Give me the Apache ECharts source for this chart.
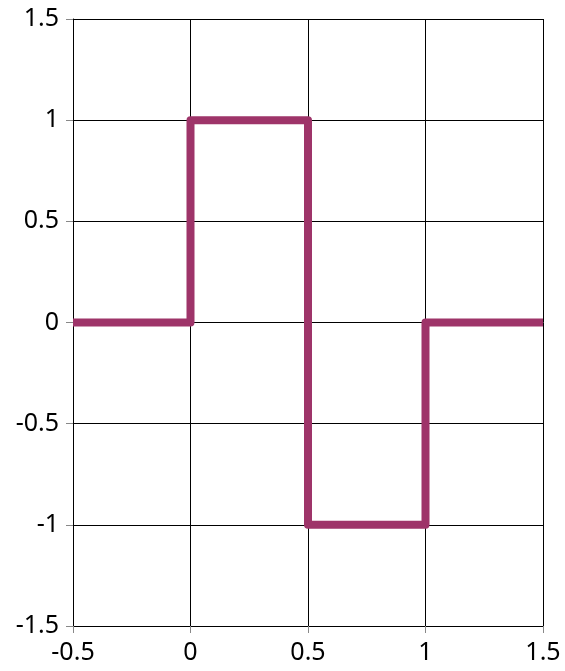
<!DOCTYPE html>
<html>
<head>
<meta charset="utf-8">
<script src="https://cdn.jsdelivr.net/npm/echarts@6/dist/echarts.min.js"></script>
<style>
  html, body { margin: 0; padding: 0; background: #fff; }
  #chart { width: 565px; height: 671px; }
</style>
</head>
<body>
<div id="chart"></div>
<script>
// Haar wavelet step function
const xValues = [-0.5, 0, 0, 0.5, 0.5, 1, 1, 1.5];
const yValues = [0, 0, 1, 1, -1, -1, 0, 0];
const xTicks = [-0.5, 0, 0.5, 1, 1.5];
const yTicks = [-1.5, -1, -0.5, 0, 0.5, 1, 1.5];

const points = xValues.map((x, i) => [x, yValues[i]]);
const fmt = v => String(v);

const chart = echarts.init(document.getElementById('chart'), null, { renderer: 'canvas' });
chart.setOption({
  animation: false,
  grid: { left: 73, right: 22, top: 19, bottom: 45, containLabel: false },
  xAxis: {
    type: 'value',
    min: xTicks[0], max: xTicks[xTicks.length - 1], interval: 0.5,
    axisLine: { show: true, onZero: false, lineStyle: { color: '#000', width: 1 } },
    axisTick: { show: true, length: 7, lineStyle: { color: '#888' } },
    axisLabel: { formatter: fmt, color: '#000', fontFamily: 'Noto Sans', fontSize: 25, margin: 14 },
    splitLine: { show: true, lineStyle: { color: '#000', width: 1 } }
  },
  yAxis: {
    type: 'value',
    min: yTicks[0], max: yTicks[yTicks.length - 1], interval: 0.5,
    axisLine: { show: true, onZero: false, lineStyle: { color: '#000', width: 1 } },
    axisTick: { show: true, length: 7, lineStyle: { color: '#888' } },
    axisLabel: { formatter: fmt, color: '#000', fontFamily: 'Noto Sans', fontSize: 25, margin: 14 },
    splitLine: { show: true, lineStyle: { color: '#000', width: 1 } }
  },
  series: [{
    type: 'line',
    data: points,
    showSymbol: false,
    lineStyle: { color: '#9E3469', width: 8, join: 'round', cap: 'butt' },
    z: 5
  }]
});
</script>
</body>
</html>
